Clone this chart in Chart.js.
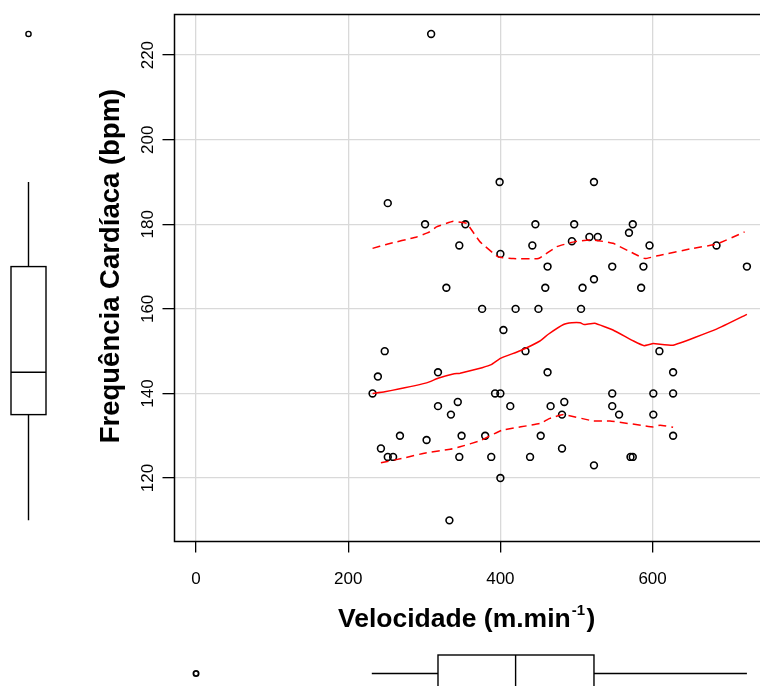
<!DOCTYPE html>
<html>
<head>
<meta charset="utf-8">
<script src="https://cdn.jsdelivr.net/npm/chart.js@4"></script>
<style>
  html, body { margin: 0; padding: 0; background: #fff; overflow: hidden; }
  #wrap { width: 760px; height: 686px; overflow: hidden; }
  canvas { display: block; }
</style>
</head>
<body>
<div id="wrap"><canvas id="chart" width="790" height="686"></canvas></div>
<script>
// Scatter points: velocity (m/min) vs heart rate (bpm)
const velocidade = [
  309, 252, 301, 354, 346, 399, 523, 400, 446, 442, 462, 497, 494, 517, 528,
  523, 547, 569, 574, 596, 588, 684, 724, 329, 248, 239, 318, 232, 318, 344,
  335, 268, 303, 349, 243, 252, 259, 346, 333, 376, 420, 450, 506, 459, 508,
  585, 404, 433, 609, 462, 627, 393, 400, 547, 601, 627, 413, 466, 484, 547,
  481, 556, 601, 380, 453, 627, 388, 439, 574, 571, 481, 523, 400
];
const frequencia = [
  225, 185, 180, 180, 175, 190, 190, 173, 180, 175, 170, 180, 176, 177, 177,
  167, 170, 178, 180, 175, 170, 175, 170, 165, 150, 144, 145, 140, 137, 138,
  135, 130, 129, 130, 127, 125, 125, 125, 110, 160, 160, 160, 160, 165, 165,
  165, 155, 150, 150, 145, 145, 140, 140, 140, 140, 140, 137, 137, 138, 137,
  135, 135, 135, 130, 130, 130, 125, 125, 125, 125, 127, 123, 120
];

// Smoother (solid) and spread (dashed) lines
const fitX = [232, 248, 303, 318, 338, 347, 376, 388, 400, 426, 452, 463, 483, 494, 505, 510, 524, 548, 575, 589, 601, 627, 684, 724];
const fitY = [140, 140.4, 142.5, 143.6, 144.6, 144.8, 146.1, 146.8, 148.3, 150.1, 152.4, 154, 156.3, 156.7, 156.7, 156.3, 156.6, 155, 152.4, 151.3, 151.8, 151.4, 155.2, 158.7];
const upperX = [232, 251, 290, 307, 316, 338, 351, 356, 373, 397, 417, 450, 474, 498, 522, 548, 575, 590, 610, 653, 684, 721];
const upperY = [174.3, 175.3, 177, 178.2, 179.4, 180.7, 180.4, 180.2, 175.9, 172.3, 171.9, 171.9, 174.7, 175.9, 176.3, 175.5, 173.1, 171.9, 172.7, 174.3, 175.3, 178.2];
const lowerX = [243, 272, 303, 334, 347, 373, 402, 452, 465, 483, 522, 544, 601, 610, 627];
const lowerY = [123.6, 124.7, 126, 126.8, 127.4, 128.8, 131.3, 132.9, 134.1, 135, 133.5, 133.5, 132.1, 132.5, 132];

// Marginal boxplots: [lower whisker, Q1, median, Q3, upper whisker]
const boxVel = [231, 318, 420, 523, 724];
const outVel = [0];
const boxFC = [110, 135, 145, 170, 190];
const outFC = [225];

const xTicks = [0, 200, 400, 600];
const yTicks = [120, 140, 160, 180, 200, 220];

const FONT = "'Liberation Sans', Arial, Helvetica, sans-serif";
Chart.defaults.font.family = FONT;
Chart.defaults.color = '#000';

const zip = (xs, ys) => xs.map((x, i) => ({ x, y: ys[i] }));

// Draws what base R adds around the plot: box, rotated y labels, titles, margin boxplots
const rStyle = {
  id: 'rStyle',
  afterDraw(chart) {
    const { ctx, chartArea: a, scales: { x, y } } = chart;
    ctx.save();
    ctx.strokeStyle = '#000';
    ctx.lineWidth = 1.5;
    ctx.strokeRect(a.left, a.top, a.right - a.left, a.bottom - a.top);

    // y tick labels, parallel to the axis
    ctx.fillStyle = '#000';
    ctx.font = `17px ${FONT}`;
    ctx.textAlign = 'center';
    ctx.textBaseline = 'middle';
    for (const v of yTicks) {
      ctx.save();
      ctx.translate(148, y.getPixelForValue(v));
      ctx.rotate(-Math.PI / 2);
      ctx.fillText(String(v), 0, 0);
      ctx.restore();
    }

    // y title
    ctx.font = `bold 27.5px ${FONT}`;
    ctx.save();
    ctx.translate(119, 266);
    ctx.rotate(-Math.PI / 2);
    ctx.textBaseline = 'alphabetic';
    ctx.fillText('Frequência Cardíaca (bpm)', 0, 0);
    ctx.restore();

    // x title with superscript
    ctx.textAlign = 'left';
    ctx.textBaseline = 'alphabetic';
    const base = 'Velocidade (m.min';
    ctx.font = `bold 26.5px ${FONT}`;
    let tx = 338;
    const ty = 627;
    ctx.fillText(base, tx, ty);
    tx += ctx.measureText(base).width + 1;
    ctx.font = `bold 15px ${FONT}`;
    ctx.fillText('-1', tx, ty - 12);
    tx += ctx.measureText('-1').width + 1.5;
    ctx.font = `bold 26.5px ${FONT}`;
    ctx.fillText(')', tx, ty);

    // left boxplot (heart rate) on the y scale
    ctx.lineWidth = 1.4;
    const cx = 28.5, hw = 17.5;
    const py = boxFC.map(v => y.getPixelForValue(v));
    ctx.beginPath();
    ctx.moveTo(cx, py[0]); ctx.lineTo(cx, py[1]);
    ctx.moveTo(cx, py[3]); ctx.lineTo(cx, py[4]);
    ctx.moveTo(cx - hw, py[2]); ctx.lineTo(cx + hw, py[2]);
    ctx.stroke();
    ctx.strokeRect(cx - hw, py[3], hw * 2, py[1] - py[3]);
    for (const v of outFC) {
      ctx.beginPath();
      ctx.arc(cx, y.getPixelForValue(v), 2.6, 0, Math.PI * 2);
      ctx.stroke();
    }

    // bottom boxplot (velocity) on the x scale
    const cy = 673.5, hh = 18.5;
    const px = boxVel.map(v => x.getPixelForValue(v));
    ctx.beginPath();
    ctx.moveTo(px[0], cy); ctx.lineTo(px[1], cy);
    ctx.moveTo(px[3], cy); ctx.lineTo(px[4], cy);
    ctx.moveTo(px[2], cy - hh); ctx.lineTo(px[2], cy + hh);
    ctx.stroke();
    ctx.strokeRect(px[1], cy - hh, px[3] - px[1], hh * 2);
    ctx.lineWidth = 1.8;
    for (const v of outVel) {
      ctx.beginPath();
      ctx.arc(x.getPixelForValue(v), cy, 2.6, 0, Math.PI * 2);
      ctx.stroke();
    }
    ctx.restore();
  }
};

new Chart(document.getElementById('chart'), {
  type: 'scatter',
  data: {
    datasets: [
      {
        data: zip(velocidade, frequencia),
        pointStyle: 'circle',
        pointRadius: 3.4,
        pointBorderWidth: 1.6,
        pointBorderColor: '#000',
        pointBackgroundColor: 'rgba(0,0,0,0)',
        order: 1
      },
      {
        type: 'line',
        data: zip(fitX, fitY),
        borderColor: '#ff0000',
        borderWidth: 1.5,
        pointRadius: 0,
        tension: 0.1,
        fill: false,
        order: 0
      },
      {
        type: 'line',
        data: zip(upperX, upperY),
        borderColor: '#ff0000',
        borderWidth: 1.5,
        borderDash: [8, 5],
        pointRadius: 0,
        tension: 0.1,
        fill: false,
        order: 0
      },
      {
        type: 'line',
        data: zip(lowerX, lowerY),
        borderColor: '#ff0000',
        borderWidth: 1.5,
        borderDash: [8, 5],
        pointRadius: 0,
        tension: 0.1,
        fill: false,
        order: 0
      }
    ]
  },
  options: {
    responsive: false,
    animation: false,
    events: [],
    layout: { padding: { left: 0, top: 14.5, right: 24.6, bottom: 0 } },
    plugins: { legend: { display: false }, tooltip: { enabled: false } },
    scales: {
      x: {
        type: 'linear',
        min: -28.3,
        max: 748.3,
        afterFit: s => { s.height = 144.5; },
        afterBuildTicks: s => { s.ticks = xTicks.map(value => ({ value })); },
        border: { display: false },
        grid: { color: '#d9d9d9', lineWidth: 1.3, tickColor: '#000', tickLength: 11, tickWidth: 1.3 },
        ticks: { autoSkip: false, maxRotation: 0, padding: 17, font: { size: 17 }, color: '#000' }
      },
      y: {
        type: 'linear',
        min: 105,
        max: 229.6,
        afterFit: s => { s.width = 174.5; },
        afterBuildTicks: s => { s.ticks = yTicks.map(value => ({ value })); },
        border: { display: false },
        grid: { color: '#d9d9d9', lineWidth: 1.3, tickColor: '#000', tickLength: 12, tickWidth: 1.3 },
        ticks: { font: { size: 17 }, color: 'rgba(0,0,0,0)' }
      }
    }
  },
  plugins: [rStyle]
});
</script>
</body>
</html>
